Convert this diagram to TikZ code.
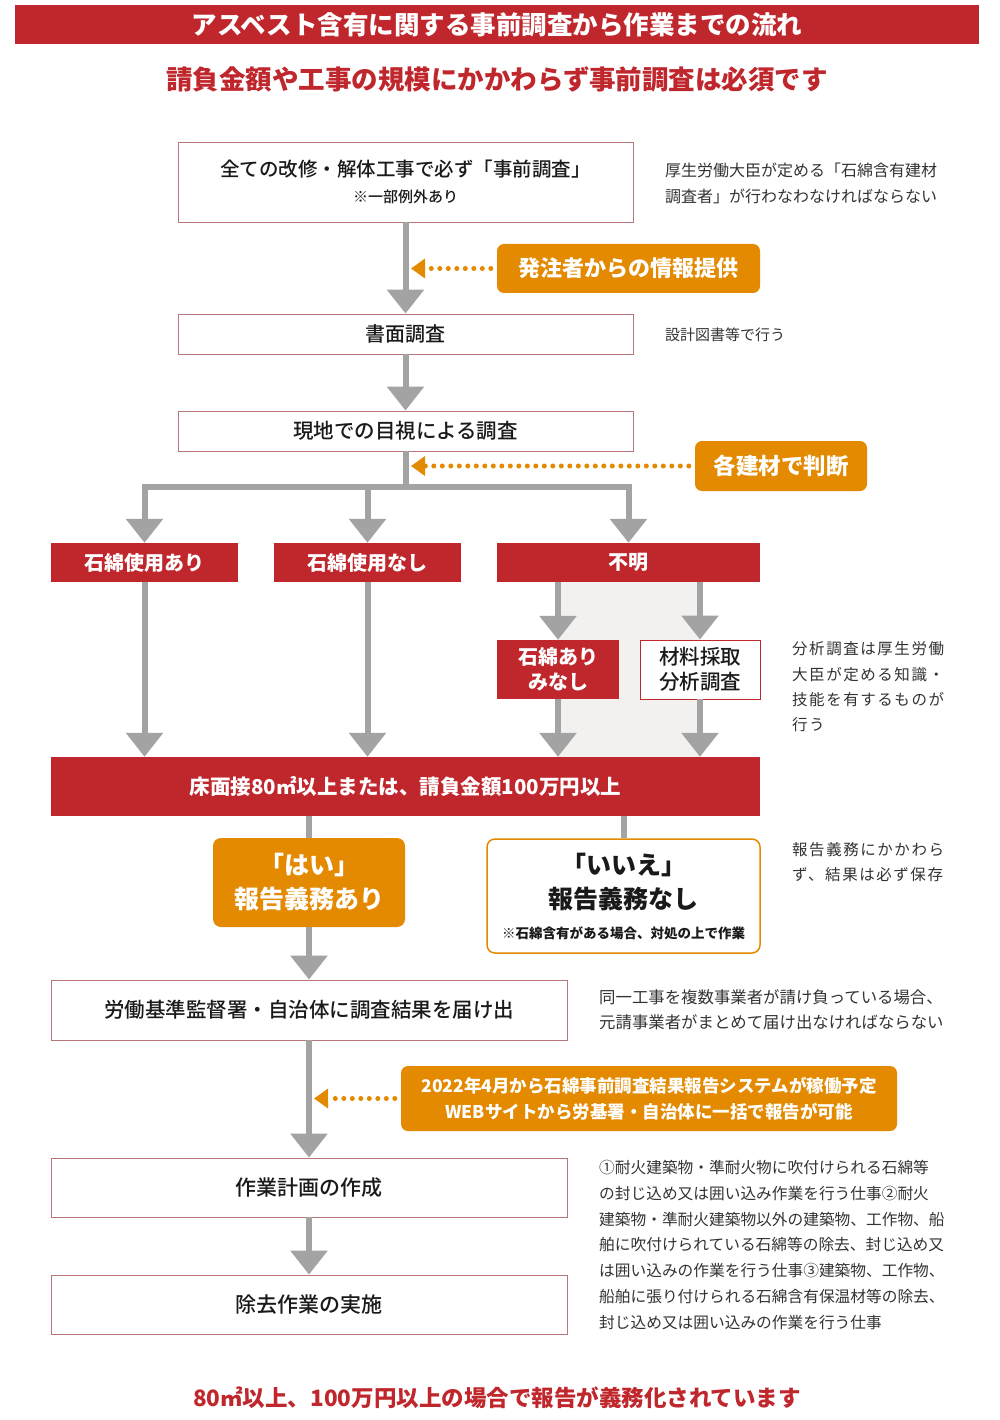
\documentclass[tikz,border=0pt]{standalone}
\usepackage{fontspec}
\setmainfont{Noto Sans CJK JP}
\newfontfamily\jpls{Noto Sans CJK JP}[LetterSpace=10]
\newfontfamily\jpm{Noto Sans CJK JP Medium}
\usetikzlibrary{arrows.meta}
\definecolor{cred}{HTML}{C0272D}
\definecolor{corange}{HTML}{E38A00}
\definecolor{cgray}{HTML}{A3A3A3}
\definecolor{cbg}{HTML}{F2F1EF}
\definecolor{cborder}{HTML}{B8767A}
\definecolor{ctext}{HTML}{1A1A1A}
\definecolor{cnote}{HTML}{333333}
\newcommand\jfs[2]{\fontsize{#1}{#2}\selectfont}
\tikzset{
  wbox/.style={draw=cborder, line width=0.9pt, fill=white, inner sep=0pt, align=center, text=ctext},
  rbox/.style={fill=cred, inner sep=0pt, align=center, text=white},
  obox/.style={fill=corange, rounded corners=7pt, inner sep=0pt, align=center, text=white},
  note/.style={anchor=west, inner sep=0pt, align=left, text=cnote},
  gline/.style={draw=cgray, line width=6pt},
  garrow/.style={draw=cgray, line width=6pt, -{Triangle[width=36pt,length=24pt]}},
  oarrow/.style={draw=corange, line width=5pt, dash pattern=on 0pt off 8.5pt, line cap=round, -{Triangle[width=19pt,length=14pt]}},
}
\begin{document}
\begin{tikzpicture}[x=1pt,y=-1pt]
\useasboundingbox (0,0) rectangle (1000,1420);
\fill[white] (0,0) rectangle (1000,1420);
% header
\node[rbox, minimum width=964, minimum height=39, font=\jfs{25.5}{30}\bfseries] (title) at (497,24.5) {アスベスト含有に関する事前調査から作業までの流れ};
\node[inner sep=0pt, text=cred, font=\jfs{26.5}{30}\bfseries] (sub) at (497,79) {請負金額や工事の規模にかかわらず事前調査は必須です};
% light background for unknown branch
\fill[cbg] (558,582) rectangle (700,757);
% boxes
\node[wbox, minimum width=455, minimum height=80, font=\jpm\jfs{19.5}{28}] (b1) at (405.5,182) {\raisebox{-2pt}{全ての改修・解体工事で必ず「事前調査」}\\[0pt]{\jpm\jfs{15}{20}※一部例外あり}};
\node[note, font=\jfs{16}{26}] (n1) at (665,183) {厚生労働大臣が定める「石綿含有建材\\調査者」が行わなわなければならない};
\node[obox, minimum width=263, minimum height=49, font=\jfs{22}{26}\bfseries] (o1) at (628.5,268.5) {発注者からの情報提供};
\node[wbox, minimum width=455, minimum height=40, font=\jpm\jfs{20}{24}] (b2) at (405.5,334) {書面調査};
\node[note, font=\jfs{15}{20}] (n2) at (665,335) {設計図書等で行う};
\node[wbox, minimum width=455, minimum height=40, font=\jpm\jfs{20.5}{24}] (b3) at (405.5,431) {現地での目視による調査};
\node[obox, minimum width=172, minimum height=50, font=\jfs{22.5}{26}\bfseries] (o2) at (781,466) {各建材で判断};
\node[rbox, minimum width=187, minimum height=39, font=\jfs{20}{24}\bfseries] (r1) at (144.5,562.5) {石綿使用あり};
\node[rbox, minimum width=187, minimum height=39, font=\jfs{20}{24}\bfseries] (r2) at (367.5,562.5) {石綿使用なし};
\node[rbox, minimum width=263, minimum height=39, font=\jfs{20}{24}\bfseries] (r3) at (628.5,562.5) {不明};
\node[rbox, minimum width=122, minimum height=59, font=\jfs{20}{25}\bfseries] (m1) at (558,669.5) {石綿あり\\みなし};
\node[wbox, draw=cred, minimum width=120, minimum height=59, font=\jpm\jfs{20.5}{25}] (m2) at (700,669.5) {材料採取\\分析調査};
\node[note, font=\jpls\jfs{15.5}{25.3}] (n3) at (792,687) {分析調査は厚生労働\\大臣が定める知識・\\技能を有するものが\\行う};
\node[rbox, minimum width=709, minimum height=59, font=\jfs{20.5}{24}\bfseries] (w) at (405.5,786.5) {床面接80㎡以上または、請負金額100万円以上};
\node[obox, rounded corners=8pt, minimum width=192, minimum height=89, font=\jfs{25}{34}\bfseries] (yes) at (309,882.5) {「はい」\\報告義務あり};
\node[wbox, draw=corange, line width=1.5pt, rounded corners=8pt, minimum width=273, minimum height=114, font=\jfs{25}{34}\bfseries] (no) at (623.5,896) {「いいえ」\\報告義務なし\\[-4pt]{\jfs{13.5}{18}\bfseries ※石綿含有がある場合、対処の上で作業}};
\node[note, font=\jpls\jfs{15.5}{25}] (n4) at (792,862.5) {報告義務にかかわら\\ず、結果は必ず保存};
\node[wbox, minimum width=516, minimum height=60, font=\jpm\jfs{20.5}{24}] (f1) at (309,1010) {労働基準監督署・自治体に調査結果を届け出};
\node[note, font=\jfs{16.4}{25}] (n5) at (599,1009.5) {同一工事を複数事業者が請け負っている場合、\\元請事業者がまとめて届け出なければならない};
\node[obox, minimum width=496, minimum height=65, font=\jfs{17.5}{26}\bfseries] (o3) at (649,1098.5) {2022年4月から石綿事前調査結果報告システムが稼働予定\\WEBサイトから労基署・自治体に一括で報告が可能};
\node[wbox, minimum width=516, minimum height=59, font=\jpm\jfs{21}{24}] (p1) at (309,1187.5) {作業計画の作成};
\node[wbox, minimum width=516, minimum height=59, font=\jpm\jfs{21}{24}] (p2) at (309,1304.5) {除去作業の実施};
\node[note, font=\jfs{15.7}{25.9}] (n6) at (599,1245) {①耐火建築物・準耐火物に吹付けられる石綿等\\の封じ込め又は囲い込み作業を行う仕事②耐火\\建築物・準耐火建築物以外の建築物、工作物、船\\舶に吹付けられている石綿等の除去、封じ込め又\\は囲い込みの作業を行う仕事③建築物、工作物、\\船舶に張り付けられる石綿含有保温材等の除去、\\封じ込め又は囲い込みの作業を行う仕事};
\node[inner sep=0pt, text=cred, font=\jfs{22.5}{28}\bfseries] (foot) at (497,1398) {80㎡以上、100万円以上の場合で報告が義務化されています};
% coordinates
\coordinate (j) at (405.5,487);
\coordinate (t1) at (411,268.5);
\coordinate (t2) at (411,466);
\coordinate (t3) at (314,1098.5);
% connectors
\draw[garrow] (b1.south) -- (b2.north);
\draw[garrow] (b2.south) -- (b3.north);
\draw[garrow] (b3.south) -- (j) -| (r1.north);
\draw[garrow] (b3.south) -- (j) -| (r2.north);
\draw[garrow] (b3.south) -- (j) -| (r3.north);
\draw[garrow] (m1.north|-r3.south) -- (m1.north);
\draw[garrow] (m2.north|-r3.south) -- (m2.north);
\draw[garrow] (r1.south) -- (r1.south|-w.north);
\draw[garrow] (r2.south) -- (r2.south|-w.north);
\draw[garrow] (m1.south) -- (m1.south|-w.north);
\draw[garrow] (m2.south) -- (m2.south|-w.north);
\draw[gline] (yes.north|-w.south) -- (yes.north);
\draw[gline] (no.north|-w.south) -- (no.north);
\draw[garrow] (yes.south) -- (f1.north);
\draw[garrow] (f1.south) -- (p1.north);
\draw[garrow] (p1.south) -- (p2.north);
\draw[oarrow] ([xshift=-6pt]o1.west) -- (t1);
\draw[oarrow] ([xshift=-6pt]o2.west) -- (t2);
\draw[oarrow] ([xshift=-6pt]o3.west) -- (t3);
\end{tikzpicture}
\end{document}
